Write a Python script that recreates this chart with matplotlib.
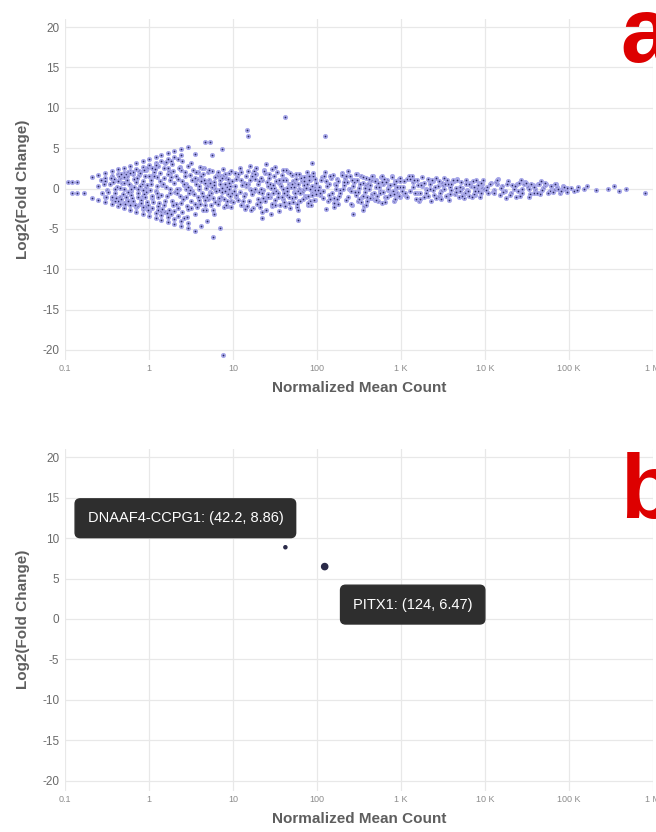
import numpy as np
import matplotlib
matplotlib.use('Agg')
import matplotlib.pyplot as plt


''' Data: panel a (all genes) '''
# fan of low-count genes, upper and lower edges
fan_up_x = [0.21, 0.25, 0.3, 0.36, 0.43, 0.5, 0.6, 0.7, 0.85, 1.0, 1.2, 1.4, 1.7, 2.0, 2.4, 2.9,
            0.3, 0.36, 0.43, 0.5, 0.6, 0.7, 0.85, 1.0, 1.2, 1.4, 1.7, 2.0, 2.4,
            0.45, 0.55, 0.65, 0.78, 0.92, 1.1, 1.3, 1.55, 1.85, 2.2]
fan_up_y = [1.4, 1.65, 1.9, 2.15, 2.4, 2.6, 2.85, 3.1, 3.35, 3.6, 3.85, 4.1, 4.35, 4.6, 4.85, 5.1,
            1.25, 1.5, 1.75, 1.95, 2.2, 2.45, 2.7, 2.95, 3.2, 3.45, 3.7, 3.95, 4.2,
            1.3, 1.6, 1.85, 2.1, 2.35, 2.6, 2.85, 3.1, 3.35, 3.6]
fan_dn_x = [0.21, 0.25, 0.3, 0.36, 0.43, 0.5, 0.6, 0.7, 0.85, 1.0, 1.2, 1.4, 1.7, 2.0, 2.4, 2.9, 3.5,
            0.3, 0.36, 0.43, 0.5, 0.6, 0.7, 0.85, 1.0, 1.2, 1.4, 1.7, 2.0, 2.4, 2.9,
            0.45, 0.55, 0.65, 0.78, 0.92, 1.1, 1.3, 1.55, 1.85, 2.2, 2.6]
fan_dn_y = [-1.2, -1.45, -1.7, -1.95, -2.2, -2.45, -2.7, -2.95, -3.2, -3.45, -3.7, -3.95, -4.2, -4.45, -4.7, -4.95, -5.25,
            -1.05, -1.3, -1.55, -1.8, -2.05, -2.3, -2.55, -2.8, -3.05, -3.3, -3.55, -3.8, -4.05, -4.3,
            -1.1, -1.4, -1.65, -1.9, -2.15, -2.4, -2.65, -2.9, -3.15, -3.4, -3.65]

# body of the cloud, lists per decade
dec0_x = [0.25, 0.28, 0.3, 0.32, 0.34, 0.36, 0.38, 0.4, 0.42, 0.44,
          0.46, 0.48, 0.5, 0.53, 0.56, 0.59, 0.62, 0.65, 0.68, 0.71,
          0.74, 0.77, 0.8, 0.83, 0.86, 0.89, 0.92, 0.95, 0.98, 0.27,
          0.31, 0.35, 0.39, 0.43, 0.47, 0.52, 0.57, 0.61, 0.66, 0.72,
          0.78, 0.84, 0.9, 0.96, 0.55, 0.63, 0.7, 0.76, 0.88, 0.93,
          0.33, 0.37, 0.41, 0.45, 0.49, 0.51, 0.54, 0.58, 0.6, 0.64,
          0.67, 0.69, 0.73, 0.75, 0.79, 0.81, 0.85, 0.87, 0.91, 0.94,
          0.97, 0.99, 0.29, 0.4, 0.5, 0.62, 0.74, 0.86, 0.45, 0.57]
dec0_y = [0.3, -0.6, 0.9, -0.2, 0.5, -1.0, 1.2, -0.5, 0.2, 1.5,
          -1.3, 0.7, -0.1, 1.8, -1.6, 0.4, -0.8, 2.0, -2.0, 1.0,
          0.0, 2.2, -1.4, 0.6, -2.3, 1.5, -0.4, 2.6, -2.6, 1.0,
          -1.1, 1.3, -1.6, 0.9, 1.8, -1.9, 2.1, -0.3, 1.2, -2.2,
          0.3, -0.9, 2.4, -1.7, 1.1, -1.2, 0.8, 1.7, -0.7, 0.2,
          -0.4, 0.8, -1.2, 0.1, -0.7, 1.4, -1.0, 0.5, 1.9, -1.5,
          0.2, -2.1, 1.3, -0.6, 1.9, -1.8, 0.9, 2.3, -1.1, 0.4,
          -2.0, 1.6, 0.6, -0.1, 0.7, 0.0, -1.0, -0.2, -1.9, -0.4]

dec1_x = [1.05, 1.1, 1.15, 1.2, 1.25, 1.3, 1.35, 1.4, 1.5, 1.55,
          1.6, 1.7, 1.75, 1.8, 1.9, 2.0, 2.1, 2.2, 2.3, 2.4,
          2.5, 2.6, 2.7, 2.8, 2.9, 3.0, 3.1, 3.2, 3.4, 3.5,
          3.6, 3.8, 3.9, 4.0, 4.2, 4.4, 4.5, 4.7, 4.9, 5.0,
          5.2, 5.4, 5.6, 5.8, 6.0, 6.2, 6.5, 6.8, 7.0, 7.3,
          7.6, 7.9, 8.2, 8.5, 8.8, 9.1, 9.4, 9.7, 1.08, 1.22,
          1.33, 1.45, 1.58, 1.65, 1.85, 1.95, 2.15, 2.35, 2.55, 2.75,
          2.95, 3.15, 3.3, 3.7, 4.1, 4.6, 5.1, 5.5, 5.9, 6.4,
          6.9, 7.5, 8.0, 8.6, 9.2, 9.8, 1.12, 1.38, 1.72, 2.05,
          2.45, 2.85, 3.25, 3.85, 4.3, 4.8, 5.3, 6.1, 7.2, 8.4,
          1.03, 1.07, 1.13, 1.18, 1.24, 1.28, 1.36, 1.42, 1.48, 1.53,
          1.62, 1.68, 1.78, 1.83, 1.88, 1.98, 2.08, 2.18, 2.28, 2.38,
          2.48, 2.58, 2.68, 2.78, 2.88, 3.05, 3.18, 3.35, 3.45, 3.55,
          3.75, 3.95, 4.05, 4.25, 4.35, 4.55, 4.75, 4.95, 5.15, 5.35,
          5.45, 5.65, 5.75, 6.05, 6.3, 6.6, 6.7, 7.1, 7.4, 7.7,
          7.8, 8.1, 8.3, 8.7, 8.9, 9.3, 9.5, 9.9, 1.16, 1.52,
          1.92, 2.25, 2.65, 3.08, 3.62, 4.15, 4.65, 5.25, 5.95, 6.75,
          7.35, 8.15, 8.95, 9.6, 1.26, 1.76, 2.32, 2.92, 3.52, 4.45]
dec1_y = [0.5, -1.2, 2.1, -0.3, 1.4, -2.2, 0.9, -0.8, 2.6, -1.6,
          0.2, 1.8, -2.6, -0.5, 3.0, 0.7, -1.9, 1.2, -0.1, 2.3,
          -2.9, 0.4, 1.6, -1.1, 2.8, -0.6, 0.1, -2.4, 1.0, -3.2,
          0.6, 2.0, -1.4, 0.0, 1.5, -0.9, 2.5, -2.0, 0.3, -1.3,
          1.1, -0.4, 2.2, -2.7, 0.8, -1.7, 1.7, -0.2, 0.5, -1.0,
          2.4, -2.3, 1.3, 0.2, -0.7, 1.9, -1.5, 0.9, -0.9, 2.9,
          -1.8, 0.4, 3.3, -3.0, 1.4, -2.1, 0.0, 2.7, -1.2, 0.6,
          -2.5, 3.1, -0.3, 1.2, -1.9, 0.7, 2.0, -0.6, -3.1, 1.5,
          -1.4, 0.1, 1.8, -2.2, 0.3, -0.5, 1.7, -2.8, 2.2, -0.4,
          3.4, -3.5, 1.0, -1.1, 2.6, -2.6, 0.8, -0.1, 1.6, -1.6,
          -0.2, 1.0, -1.7, 2.4, 0.3, -1.1, 1.9, -2.5, 0.6, 1.3,
          -0.9, 2.5, -0.1, 2.0, -1.5, -2.8, 1.5, -0.5, 2.6, -1.8,
          0.9, -1.3, 2.1, 0.0, -2.2, 1.7, -1.6, 2.3, -0.7, 1.3,
          -2.3, 0.3, 2.7, -0.6, -2.6, 1.1, 0.1, -1.1, 2.3, 0.7,
          -2.0, 0.2, -1.2, 1.4, -0.3, 2.1, -1.9, 1.0, -0.4, 1.6,
          -1.3, 0.6, -2.1, 1.2, 0.0, -0.9, 2.2, -1.7, 1.6, -2.0,
          2.2, -2.4, 0.5, -0.2, 2.1, 0.9, -1.4, -0.8, 0.4, -1.2,
          1.3, -0.3, 0.7, -2.3, -0.6, 1.0, -0.9, 0.2, -1.9, 1.8]

dec2_x = [10.5, 11, 11.5, 12, 12.5, 13, 13.5, 14, 15, 15.5,
          16, 17, 17.5, 18, 19, 20, 21, 22, 23, 24,
          25, 26, 27, 28, 29, 30, 31, 32, 34, 35,
          36, 38, 39, 40, 42, 44, 45, 47, 49, 50,
          52, 54, 56, 58, 60, 62, 65, 68, 70, 73,
          76, 79, 82, 85, 88, 91, 94, 97, 10.8, 12.2,
          13.3, 14.5, 15.8, 16.5, 18.5, 19.5, 21.5, 23.5, 25.5, 27.5,
          29.5, 31.5, 33, 37, 41, 46, 51, 55, 59, 64,
          69, 75, 80, 86, 92, 98, 11.2, 13.8, 17.2, 20.5,
          24.5, 28.5, 32.5, 38.5, 43, 48, 53, 61, 72, 84,
          10.2, 10.9, 11.6, 12.4, 12.8, 13.6, 14.2, 14.8, 15.3, 16.2,
          16.8, 17.8, 18.2, 18.8, 19.8, 20.8, 21.8, 22.5, 23.2, 24.2,
          25.2, 26.5, 27.2, 28.2, 29.2, 30.5, 31.8, 33.5, 34.5, 35.5,
          36.5, 37.5, 39.5, 40.5, 41.5, 43.5, 44.5, 46.5, 47.5, 49.5,
          51.5, 53.5, 54.5, 57, 59.5, 61.5, 63, 66, 67, 71,
          74, 77, 78, 81, 83, 87, 89, 93, 95, 99,
          10.6, 12.6, 14.4, 16.4, 18.4, 20.2, 22.8, 26.2, 30.2, 34.2,
          39.2, 44.2, 50.5, 57.5, 63.5, 70.5, 78.5, 86.5, 94.5, 22.2]
dec2_y = [0.3, -1.0, 1.8, -0.4, 1.1, -2.0, 0.7, -0.7, 2.2, -1.5,
          0.0, 1.5, -2.4, -0.3, 2.5, 0.5, -1.7, 1.0, -0.2, 1.9,
          -2.6, 0.3, 1.3, -1.0, 2.4, -0.5, 0.1, -2.1, 0.8, -2.8,
          0.5, 1.7, -1.3, 0.0, 1.2, -0.8, 2.1, -1.8, 0.2, -1.2,
          0.9, -0.4, 1.8, -2.3, 0.6, -1.5, 1.4, -0.2, 0.4, -0.9,
          2.0, -2.0, 1.1, 0.1, -0.6, 1.6, -1.4, 0.7, -0.8, 2.6,
          -1.6, 0.3, 2.8, -2.6, 1.2, -1.9, -0.1, 2.3, -1.1, 0.5,
          -2.2, 2.7, -0.3, 1.0, -1.7, 0.6, 1.7, -0.5, -2.7, 1.3,
          -1.3, 0.1, 1.5, -2.0, 0.2, -0.4, 1.4, -2.5, 1.9, -0.4,
          3.0, -3.2, 0.9, -1.0, 2.3, -2.4, 0.7, -0.1, 1.4, -1.5,
          -0.3, 1.2, -1.4, 2.0, 0.4, -0.9, 1.6, -2.2, 0.5, 1.1,
          -0.7, 2.2, 0.0, 1.8, -1.3, -2.3, 1.3, -0.5, 2.2, -1.5,
          0.8, -1.1, 1.8, 0.1, -1.9, 1.5, -1.4, 2.0, -0.6, 1.1,
          -2.0, 0.3, 2.3, -0.5, -2.2, 1.0, 0.1, -1.0, 1.9, 0.6,
          -1.7, 0.2, -1.1, 1.2, -0.3, 1.8, -1.6, 0.9, -0.4, 1.4,
          -1.1, 0.5, -1.8, 1.0, 0.0, -0.8, 1.9, -1.4, 1.2, -0.7,
          1.9, -2.1, 0.5, -0.2, 1.8, 0.9, -1.2, -0.7, 0.4, -1.0,
          1.1, -0.3, 0.6, -1.9, -0.5, 0.9, -0.9, 0.3, -0.2, -2.9]

dec3_x = [105, 110, 115, 120, 130, 135, 140, 150, 155, 160,
          170, 175, 180, 190, 200, 210, 220, 230, 240, 250,
          260, 270, 280, 290, 300, 310, 320, 340, 350, 360,
          380, 390, 400, 420, 440, 450, 470, 490, 500, 520,
          540, 560, 580, 600, 620, 650, 680, 700, 730, 760,
          790, 820, 850, 880, 910, 940, 970, 108, 125, 145,
          165, 185, 215, 245, 275, 305, 335, 370, 410, 460,
          510, 570, 630, 690, 750, 810, 870, 930, 990, 128,
          102, 112, 118, 122, 132, 138, 148, 158, 168, 178,
          188, 198, 205, 225, 235, 255, 265, 285, 295, 315,
          330, 345, 355, 375, 395, 415, 430, 455, 480, 495,
          530, 550, 590, 610, 640, 670, 710, 740, 780, 830,
          860, 900, 950, 980, 117, 142, 172, 208, 252, 298,
          352, 425, 505, 595, 705, 835, 965, 162, 232, 385]
dec3_y = [0.2, -0.8, 1.4, -0.3, 0.9, -1.6, 0.5, -0.6, 1.7, -1.2,
          0.0, 1.2, -1.9, -0.2, 1.9, 0.4, -1.4, 0.8, -0.1, 1.5,
          -2.0, 0.3, 1.0, -0.8, 1.8, -0.4, 0.1, -1.7, 0.7, -2.2,
          0.4, 1.3, -1.0, 0.0, 1.0, -0.7, 1.6, -1.4, 0.2, -0.9,
          0.7, -0.3, 1.4, -1.8, 0.5, -1.1, 1.1, -0.2, 0.3, -0.7,
          1.5, -1.5, 0.9, 0.1, -0.5, 1.2, -1.1, -0.6, 2.1, -1.3,
          0.6, -0.9, 1.3, -0.1, 0.8, -1.6, 1.6, -0.4, 0.5, -1.2,
          1.0, -0.6, 1.2, -1.0, 0.4, -0.3, 0.9, -0.8, 0.2, -2.5,
          -0.2, 1.0, -1.2, 1.6, 0.3, -0.8, 1.3, -1.8, 0.4, 0.9,
          -0.6, 1.7, 0.0, 1.5, -1.1, -1.9, 1.1, -0.4, 1.8, -1.3,
          0.6, -1.0, 1.4, 0.1, -1.6, 1.2, -1.2, 1.6, -0.5, 0.9,
          -1.6, 0.2, 1.6, -0.4, -1.7, 0.8, 0.1, -0.8, 1.4, 0.5,
          -1.3, 0.2, -0.9, 0.9, -0.3, 1.5, -1.3, 0.8, -0.3, 1.1,
          -0.9, 0.4, -1.4, 0.8, 0.0, -0.7, 1.3, -2.3, 2.2, -2.1]

dec4_x = [1050, 1100, 1200, 1300, 1400, 1500, 1600, 1700, 1800, 1900,
          2000, 2150, 2300, 2450, 2600, 2750, 2900, 3100, 3300, 3500,
          3700, 3900, 4100, 4400, 4700, 5000, 5300, 5600, 6000, 6400,
          6800, 7200, 7600, 8000, 8500, 9000, 9500, 1150, 1350, 1550,
          1750, 2050, 2400, 2800, 3200, 3600, 4000, 4500, 5100, 5800,
          6600, 7400, 8300, 9300, 1250, 1650, 2200, 3000, 4300, 6200,
          1020, 1080, 1180, 1280, 1380, 1480, 1580, 1680, 1780, 1880,
          1980, 2100, 2250, 2350, 2500, 2650, 2850, 3050, 3250, 3450,
          3650, 3850, 4200, 4600, 4900, 5200, 5500, 5900, 6300, 6700,
          7100, 7500, 7900, 8200, 8700, 9200, 9700, 1120, 1420, 1720,
          2120, 2520, 2950, 3400, 3950, 4650, 5400, 6500, 7700, 8900]
dec4_y = [0.2, -0.7, 1.2, -0.3, 0.8, -1.3, 0.4, -0.5, 1.4, -1.0,
          0.0, 1.0, -1.5, -0.2, 1.3, 0.3, -1.1, 0.7, -0.1, 1.1,
          -1.4, 0.2, 0.8, -0.7, 1.2, -0.3, 0.1, -1.2, 0.6, -0.9,
          0.3, 0.9, -0.8, 0.0, 0.7, -0.5, 1.0, -0.9, 1.5, -0.6,
          0.5, -0.2, 0.9, -1.0, 0.4, -0.8, 0.6, -0.4, 0.2, -0.6,
          0.7, -0.7, 0.4, 0.1, 1.6, -1.6, 0.5, -1.3, 0.9, -0.2,
          -0.3, 0.9, -1.0, 1.2, 0.2, -0.6, 1.0, -1.3, 0.3, 0.7,
          -0.5, 1.2, 0.0, 1.1, -0.8, -1.2, 0.9, -0.3, 1.3, -0.9,
          0.5, -0.7, 1.0, 0.1, -1.1, 0.8, -0.8, 1.1, -0.3, 0.6,
          -1.0, 0.2, 1.0, -0.3, -1.0, 0.5, 0.0, -0.5, 1.0, 0.4,
          -0.9, 0.2, -0.6, 0.6, -0.2, 1.0, -0.9, 0.5, -0.3, 0.7]

dec5_x = [10500, 11000, 12000, 13000, 14000, 15000, 16000, 17500, 19000, 20500,
          22000, 24000, 26000, 28000, 30000, 32500, 35000, 37500, 40000, 43000,
          46000, 50000, 54000, 58000, 62000, 67000, 72000, 78000, 85000, 92000,
          12500, 14500, 18000, 21000, 25000, 29000, 34000, 39000, 45000, 52000,
          60000, 70000, 82000, 96000, 27000,
          10200, 11500, 12800, 13500, 15500, 16500, 18500, 20000, 23000, 25500,
          27500, 31000, 33500, 36000, 38500, 41500, 44500, 48000, 51500, 56000,
          61000, 65000, 69000, 75000, 80000, 88000, 95000, 13800, 23500, 47000]
dec5_y = [0.2, -0.5, 0.7, -0.2, 0.5, -0.8, 0.3, -0.3, 0.9, -0.6,
          0.0, 0.6, -0.9, -0.1, 0.8, 0.2, -0.7, 0.4, -0.1, 0.6,
          -0.6, 0.1, 0.5, -0.4, 0.3, -0.2, 0.2, -0.5, 0.3, -0.2,
          -0.4, 1.2, -1.2, 0.4, -0.3, 0.5, -1.0, 0.2, -0.7, 0.4,
          -0.3, 0.6, -0.1, 0.1, 1.1,
          -0.2, 0.6, -0.6, 0.8, 0.1, -0.4, 0.6, -0.8, 0.3, 0.7,
          -0.5, 0.7, 0.0, 0.6, -0.5, -0.6, 0.5, -0.2, 0.7, -0.5,
          0.3, -0.4, 0.5, 0.0, -0.3, 0.2, -0.4, 1.0, -1.1, 0.9]

dec6_x = [105000, 115000, 130000, 150000, 165000, 210000, 290000, 350000, 400000, 480000, 820000, 125000]
dec6_y = [0.1, -0.3, 0.2, -0.1, 0.3, -0.2, -0.1, 0.25, -0.3, -0.1, -0.5, -0.2]

# stragglers away from the main band
out_x = [0.11, 0.12, 0.14, 0.12, 0.14, 0.17, 4.6, 5.3, 5.6, 7.4, 14.6, 15.0, 42.2, 124,
         87, 19, 5.8, 7.0, 4.9, 7.6, 270, 350, 22, 60, 3.5, 4.2]
out_y = [0.85, 0.85, 0.85, -0.6, -0.6, -0.55, 5.7, 5.8, 4.1, 4.9, 7.3, 6.5, 8.86, 6.47,
         3.1, 2.6, -6.0, -4.9, -4.0, -20.6, -3.1, -2.7, -3.6, -3.9, 4.3, -4.6]

''' Data: panel b (highlighted genes) '''
b_genes = ['DNAAF4-CCPG1', 'PITX1']
b_x = [42.2, 124]
b_y = [8.86, 6.47]

''' Axis ticks '''
x_ticks = [0.1, 1, 10, 100, 1E3, 1E4, 1E5, 1E6]
x_ticklabels = ['0.1', '1', '10', '100', '1 K', '10 K', '100 K', '1 M']
y_ticks = [-20, -15, -10, -5, 0, 5, 10, 15, 20]


def style_axes(ax):
    '''
    '''
    ax.set_xscale('log')
    ax.set_xlim(0.1, 1E6)
    ax.set_ylim(-21.2, 21)
    ax.set_xticks(x_ticks)
    ax.set_xticklabels(x_ticklabels)
    ax.minorticks_off()
    ax.set_yticks(y_ticks)
    ax.grid(True, color='#e8e8e8', linewidth=0.9)
    ax.set_axisbelow(True)
    for spine in ax.spines.values():
        spine.set_visible(False)
    ax.tick_params(axis='x', length=0, labelsize=6.5, labelcolor='#8c8c8c', pad=3)
    ax.tick_params(axis='y', length=0, labelsize=8.5, labelcolor='#6a6a6a', pad=4)
    ax.set_xlabel('Normalized Mean Count', fontsize=11, fontweight='bold', color='#5e5e5e')
    ax.set_ylabel('Log2(Fold Change)', fontsize=11, fontweight='bold', color='#5e5e5e')
    ax.xaxis.set_label_coords(0.5, -0.062)
    ax.yaxis.set_label_coords(-0.06, 0.5)


if __name__ == '__main__':

    plt.rcParams['font.family'] = ['Liberation Sans', 'DejaVu Sans']
    plt.rcParams['axes.unicode_minus'] = False

    fig = plt.figure(figsize=(6.56, 8.32), dpi=100)
    ax_a = fig.add_axes([0.099, 0.5677, 0.896, 0.4095])
    ax_b = fig.add_axes([0.099, 0.0497, 0.896, 0.4107])

    ''' Panel a '''
    a_x = np.concatenate([fan_up_x, fan_dn_x, dec0_x, dec1_x, dec2_x,
                          dec3_x, dec4_x, dec5_x, dec6_x, out_x])
    a_y = np.concatenate([fan_up_y, fan_dn_y, dec0_y, dec1_y, dec2_y,
                          dec3_y, dec4_y, dec5_y, dec6_y, out_y])
    style_axes(ax_a)
    ax_a.scatter(a_x, a_y, s=6, c='#26265c', edgecolors='#a8a8ea',
                 linewidths=1.2, clip_on=False, zorder=3)

    ''' Panel b '''
    style_axes(ax_b)
    ax_b.scatter(b_x, b_y, s=[5, 20], c='#2a2a48', zorder=3)
    offsets = [(-100, 29), (88, -38)]
    for gene, x, y, off in zip(b_genes, b_x, b_y, offsets):
        ax_b.annotate(
            f'{gene}: ({x}, {y})',
            xy=(x, y),
            xytext=off,
            textcoords='offset pixels',
            ha='center', va='center',
            fontsize=10.5, color='white',
            bbox=dict(boxstyle='round,pad=0.85,rounding_size=0.35',
                      facecolor='#2e2e2e', edgecolor='#2e2e2e'),
            zorder=5)

    ''' Panel letters '''
    letter_font = ['Liberation Sans Narrow', 'Liberation Sans', 'DejaVu Sans']
    fig.text(620 / 656, 1 - 62 / 832, 'a', ha='left', va='baseline',
             fontsize=66, fontweight='bold', color='#dd0000', family=letter_font)
    fig.text(620 / 656, 1 - 518 / 832, 'b', ha='left', va='baseline',
             fontsize=65, fontweight='bold', color='#dd0000', family=letter_font)

    plt.savefig('out.png', dpi=100)
    plt.close(fig)
